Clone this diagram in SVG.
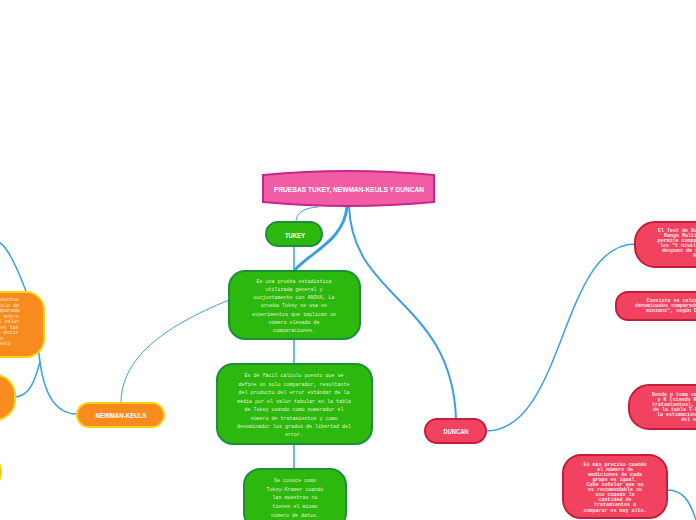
<svg xmlns="http://www.w3.org/2000/svg" width="696" height="520" viewBox="0 0 696 520">
<style>
.g{fill:#2db80e;stroke:#1b8f3a;stroke-width:2}
.o{fill:#f78b1f;stroke:#f6d313;stroke-width:2}
.r{fill:#f1435f;stroke:#c41e3a;stroke-width:2}
.h{font-family:"Liberation Sans",Arial,sans-serif;font-weight:bold;fill:#fff;text-anchor:middle}
.t{font-family:"Liberation Mono","Courier New",monospace;font-size:5px;font-weight:bold}
.tg{fill:#e2f2d4;text-anchor:middle;font-weight:normal}
.to{fill:#ffeccc;text-anchor:end;font-weight:normal}
.tr{fill:#ffe8ec}
.c{fill:none;stroke:#3aa0e0;stroke-linecap:round}
</style>
<rect width="696" height="520" fill="#fff"/>
<g id="connectors">
<path class="c" stroke-width="3" d="M347,206 C345,240 310,252 294,271"/>
<path class="c" stroke-width="2" d="M349,206 C352,300 452,300 456,419"/>
<path class="c" stroke-width="1" d="M318,207 C302,208 296,214 296,222"/>
<path class="c" stroke-width="1.5" d="M294,246 L294,271"/>
<path class="c" stroke-width="1.5" d="M294,339 L294,364"/>
<path class="c" stroke-width="1.5" d="M294,444 L294,469"/>
<path class="c" stroke-width="1" d="M229,300 C160,328 121,360 121,403"/>
<path class="c" stroke-width="1.5" d="M77,414 C55,414 44,392 40,362 C36,330 30,300 24,286 C17,268 8,248 0,243"/>
<path class="c" stroke-width="1.5" d="M15,397 C30,396 35,380 40,362"/>
<path class="c" stroke-width="1.5" d="M486,431 C565,431 560,244 635,244"/>
<path class="c" stroke-width="1.5" d="M667,490 C684,490 690,502 696,520"/>
</g>
<g id="root">
<path d="M263,175 Q348,167 434,175 L434,202 Q348,210 263,202 Z" fill="#f25ca4" stroke="#c9258e" stroke-width="2"/>
<text class="h" x="349" y="192" font-size="8" textLength="150" lengthAdjust="spacingAndGlyphs">PRUEBAS TUKEY, NEWMAN-KEULS Y DUNCAN</text>
</g>
<g id="tukey">
<rect class="g" x="266" y="222" width="56" height="24" rx="12"/>
<text class="h" x="295" y="238" font-size="8" textLength="20" lengthAdjust="spacingAndGlyphs">TUKEY</text>
</g>
<g id="tukey1">
<rect class="g" x="229" y="271" width="131" height="68" rx="16"/>
<text class="t tg" x="294"><tspan x="294" y="283">Es una prueba estadística</tspan><tspan x="294" y="291">utilizada general y</tspan><tspan x="294" y="299">conjuntamente con ANOVA, La</tspan><tspan x="294" y="307">prueba Tukey se usa en</tspan><tspan x="294" y="315.5">experimentos que implican un</tspan><tspan x="294" y="323.5">número elevado de</tspan><tspan x="294" y="332">comparaciones.</tspan></text>
</g>
<g id="tukey2">
<rect class="g" x="217" y="364" width="155" height="80" rx="16"/>
<text class="t tg"><tspan x="294" y="376.5">Es de fácil cálculo puesto que se</tspan><tspan x="294" y="385.5">define un solo comparador, resultante</tspan><tspan x="294" y="394">del producto del error estándar de la</tspan><tspan x="294" y="402.5">media por el valor tabular en la tabla</tspan><tspan x="294" y="411">de Tukey usando como numerador el</tspan><tspan x="294" y="419.5">número de tratamientos y como</tspan><tspan x="294" y="427.5">denominador los grados de libertad del</tspan><tspan x="294" y="436">error.</tspan></text>
</g>
<g id="tukey3">
<rect class="g" x="244" y="469" width="102" height="60" rx="16"/>
<text class="t tg"><tspan x="295" y="481.5">Se conoce como</tspan><tspan x="295" y="490.5">Tukey-Kramer cuando</tspan><tspan x="295" y="499">las muestras no</tspan><tspan x="295" y="508">tienen el mismo</tspan><tspan x="295" y="516.5">número de datos.</tspan></text>
</g>
<g id="newman">
<rect class="o" x="77" y="403" width="87" height="24" rx="12"/>
<text class="h" x="121" y="418" font-size="8" textLength="51" lengthAdjust="spacingAndGlyphs">NEWMAN-KEULS</text>
</g>
<g id="nk1">
<rect class="o" x="-60" y="292" width="104" height="65" rx="18"/>
<text class="t to"><tspan x="19" y="301">procedimientos</tspan><tspan x="19" y="306.5">el cálculo de</tspan><tspan x="20" y="312">ser comparado</tspan><tspan x="18.5" y="317.5">diferencias entre</tspan><tspan x="19.5" y="323">el valor</tspan><tspan x="18.5" y="328.5">en las</tspan><tspan x="18.5" y="334">es decir</tspan><tspan x="3.5" y="339.5">son</tspan><tspan x="10.5" y="345">tratamiento</tspan></text>
</g>
<g id="nk2">
<rect class="o" x="-60" y="375" width="75" height="45" rx="20"/>
</g>
<g id="nk3">
<rect class="o" x="-80" y="455" width="81" height="34" rx="16"/>
</g>
<g id="duncan">
<rect class="r" x="425" y="419" width="61" height="24" rx="12"/>
<text class="h" x="456" y="434" font-size="8" textLength="25" lengthAdjust="spacingAndGlyphs">DUNCAN</text>
</g>
<g id="duncan1">
<rect class="r" x="635" y="222" width="120" height="45" rx="20"/>
<text class="t tr"><tspan x="658" y="231.5">El Test de Duncan (Nuevo</tspan><tspan x="664" y="236.5">Rango Multiple)</tspan><tspan x="657.5" y="241.5">permite comparar las medias de</tspan><tspan x="660" y="246.5">los "t niveles" de un factor</tspan><tspan x="662" y="251.5">despues de rechazar la</tspan><tspan x="693" y="256.5">ANOVA.</tspan></text>
</g>
<g id="duncan2">
<rect class="r" x="616" y="292" width="140" height="28" rx="12"/>
<text class="t tr"><tspan x="646.5" y="301.5">Consiste en calcular los valores</tspan><tspan x="635" y="306.5">denominados comparadores</tspan><tspan x="646" y="311.5">mínimos", según Duncan</tspan></text>
</g>
<g id="duncan3">
<rect class="r" x="629" y="385" width="120" height="44" rx="20"/>
<text class="t tr"><tspan x="652" y="395.5">Donde p toma valores</tspan><tspan x="657.5" y="400.5">y K (siendo K el número de</tspan><tspan x="652" y="405.5">tratamientos), obtenidos</tspan><tspan x="653" y="410.5">de la tabla T-Duncan y</tspan><tspan x="657" y="415.5">la estimación del error</tspan><tspan x="681" y="420.5">del error.</tspan></text>
</g>
<g id="duncan4">
<rect class="r" x="563" y="455" width="104" height="63" rx="18"/>
<text class="t tr" text-anchor="middle"><tspan x="615" y="465.5">Es más preciso cuando</tspan><tspan x="615" y="470.5">el número de</tspan><tspan x="615" y="475.5">mediciones de cada</tspan><tspan x="615" y="480.5">grupo es igual.</tspan><tspan x="615" y="485.5">Cabe señalar que no</tspan><tspan x="615" y="490.5">es recomendable su</tspan><tspan x="615" y="495.5">uso cuando la</tspan><tspan x="615" y="500.5">cantidad de</tspan><tspan x="615" y="506">tratamientos a</tspan><tspan x="615" y="511.5">comparar es muy alto.</tspan></text>
</g>
</svg>
